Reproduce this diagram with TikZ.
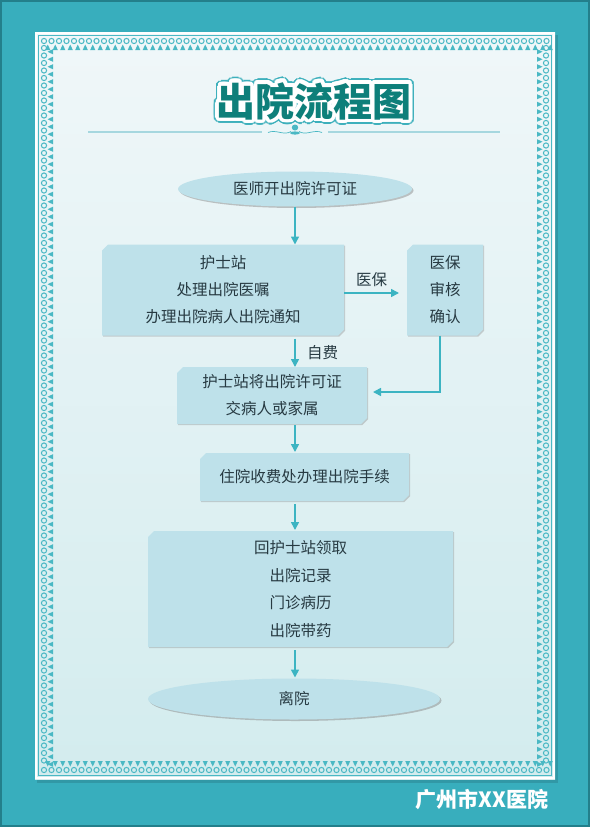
\documentclass[tikz,border=0pt]{standalone}
\usepackage{fontspec}
\newfontfamily\cjk{Noto Sans CJK SC}
\usetikzlibrary{shapes.misc,shapes.geometric,arrows.meta,shadows}
\definecolor{bgteal}{HTML}{38AEBD}
\definecolor{bgdark}{HTML}{237F8B}
\definecolor{paneltop}{HTML}{F0F7F9}
\definecolor{panelbot}{HTML}{D3ECEE}
\definecolor{motif}{HTML}{4AB8C4}
\definecolor{boxc}{HTML}{BEE1EA}
\definecolor{txt}{HTML}{273A42}
\definecolor{arrc}{HTML}{3CB4C2}
\definecolor{titlec}{HTML}{0E7F7A}
\definecolor{titleo}{HTML}{3DB0BC}
\definecolor{rulec}{HTML}{A6D7DF}
\begin{document}
\begin{tikzpicture}[x=1pt,y=-1pt,
  every node/.style={inner sep=0pt,outer sep=0pt},
  stepbox/.style={chamfered rectangle,
    chamfered rectangle corners={north west,south east},
    chamfered rectangle xsep=3pt, chamfered rectangle ysep=3pt,
    fill=boxc, align=center, text=txt,
    font=\cjk\fontsize{15.5}{27}\selectfont,
    drop shadow={opacity=0.35,shadow xshift=1.2pt,shadow yshift=-1.2pt,fill=gray}},
  oval/.style={ellipse, fill=boxc, align=center, text=txt,
    font=\cjk\fontsize{15.5}{27}\selectfont,
    drop shadow={opacity=0.45,shadow xshift=1.5pt,shadow yshift=-1.5pt,fill=gray}},
  arr/.style={draw=arrc, line width=1.6pt, -{Triangle[length=8pt,width=8pt]}},
  lbl/.style={text=txt, font=\cjk\fontsize{15.5}{18}\selectfont},
  titlefont/.style={font=\cjk\bfseries\fontsize{39}{42}\selectfont}
]
\useasboundingbox (0,0) rectangle (590,827);
% outer background
\fill[bgteal] (0,0) rectangle (590,827);
\draw[bgdark, line width=2pt] (1,1) rectangle (589,826);
% panel with soft shadow
\fill[black, opacity=0.12] (37,35) rectangle (558,783);
\shade[top color=paneltop, bottom color=panelbot] (35,32) rectangle (555,779);
\draw[white, line width=1.5pt] (36,33) rectangle (554,778);
\draw[motif, line width=0.8pt] (38.5,35.5) rectangle (551.5,775.5);
% border motifs: top and bottom
\foreach \x in {44,51.5,...,547} {
  \draw[motif, line width=1pt] (\x,41) circle (2.6);
  \fill[motif] (\x+3.75,44.5) -- (\x+1.2,50) -- (\x+6.3,50) -- cycle;
  \draw[motif, line width=1pt] (\x,770) circle (2.6);
  \fill[motif] (\x+3.75,766.5) -- (\x+1.2,761) -- (\x+6.3,761) -- cycle;
}
% border motifs: left and right
\foreach \y in {48,55.5,...,764} {
  \draw[motif, line width=1pt] (44,\y) circle (2.6);
  \fill[motif] (47.5,\y+3.75) -- (53,\y+1.2) -- (53,\y+6.3) -- cycle;
  \draw[motif, line width=1pt] (546,\y) circle (2.6);
  \fill[motif] (542.5,\y+3.75) -- (537,\y+1.2) -- (537,\y+6.3) -- cycle;
}
% title with outline
\foreach \a in {0,15,...,345} {
  \node[titlefont, text=titleo] (to\a) at ([shift={(\a:5.2)}]314,101) {出院流程图};
}
\foreach \a in {0,15,...,345} {
  \node[titlefont, text=white] (tw\a) at ([shift={(\a:3.6)}]314,101) {出院流程图};
}
\node[titlefont, text=titlec] (title) at (314,101) {出院流程图};
% rule with ornament
\draw[rulec, line width=1.6pt] (88,132) -- (262,132);
\draw[rulec, line width=1.6pt] (328,132) -- (500,132);
\draw[motif, line width=0.7pt] (268,132.5) .. controls (276,129) and (284,136) .. (291,131.5);
\draw[motif, line width=0.7pt] (322,132.5) .. controls (314,129) and (306,136) .. (299,131.5);
\fill[motif] (295,127.5) ellipse (3.2 and 3);
\fill[motif] (295,133) ellipse (5 and 1.6);
% flow nodes
\node[oval, minimum width=234pt, minimum height=35pt] (e1) at (295,189) {医师开出院许可证};
\node[stepbox, minimum width=242pt, minimum height=91pt] (b1) at (223,290) {护士站\\处理出院医嘱\\办理出院病人出院通知};
\node[stepbox, minimum width=76pt, minimum height=91pt] (b2) at (445,290) {医保\\审核\\确认};
\node[stepbox, minimum width=190pt, minimum height=57pt] (b3) at (272,395.5) {护士站将出院许可证\\交病人或家属};
\node[stepbox, minimum width=209pt, minimum height=48pt] (b4) at (304.5,477) {住院收费处办理出院手续};
\node[stepbox, minimum width=305pt, minimum height=116pt, font=\cjk\fontsize{15.5}{27.5}\selectfont] (b5) at (300.5,589) {回护士站领取\\出院记录\\门诊病历\\出院带药};
\node[oval, minimum width=292pt, minimum height=41pt] (e2) at (294,699) {离院};
\node[text=white, font=\cjk\bfseries\fontsize{21}{24}\selectfont, anchor=east] (foot) at (548,800) {广州市XX医院};
% connectors
\draw[arr] (e1.south) -- (e1.south |- b1.north);
\draw[arr] ([yshift=-3pt]b1.east) -- ([xshift=-8pt,yshift=-3pt]b2.west) node[lbl, midway, above=6pt] (l1) {医保};
\draw[arr] ([yshift=-3pt]e1.south |- b1.south) -- (e1.south |- b3.north);
\node[lbl, anchor=west] (l2) at (307,353) {自费};
\draw[arr] ([xshift=-5pt]b2.south) |- ([xshift=6pt,yshift=3.5pt]b3.east);
\draw[arr] ([yshift=-1pt]e1.south |- b3.south) -- ([yshift=1pt]e1.south |- b4.north);
\draw[arr] ([yshift=-3pt]e1.south |- b4.south) -- ([yshift=1pt]e1.south |- b5.north);
\draw[arr] ([yshift=-3pt]e1.south |- b5.south) -- ([yshift=1pt]e1.south |- e2.north);
\end{tikzpicture}
\end{document}
